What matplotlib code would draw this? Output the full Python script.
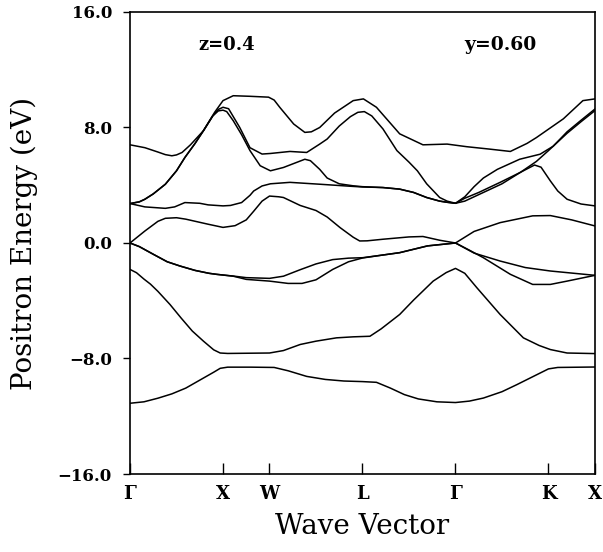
import matplotlib
matplotlib.use("Agg")
import matplotlib.pyplot as plt

# ---- DATA ----
# path coordinate: Gamma=0, X=1, W=1.5, L=2.5, Gamma=3.5, K=4.5, X=5
TICK_POS = [0.0, 1.0, 1.5, 2.5, 3.5, 4.5, 5.0]
TICK_LABELS = ["Γ", "X", "W", "L", "Γ", "K", "X"]

band1_k = [0.0, 0.15, 0.3, 0.45, 0.6, 0.75, 0.9, 0.97, 1.05, 1.3, 1.55, 1.7, 1.9, 2.1, 2.3, 2.5,
           2.65, 2.8, 2.95, 3.1, 3.3, 3.5, 3.65, 3.8, 4.0, 4.16, 4.35, 4.5, 4.6, 5.0]
band1_e = [-11.1, -11.0, -10.75, -10.45, -10.05, -9.5, -8.95, -8.68, -8.6, -8.6, -8.62, -8.85, -9.24,
           -9.45, -9.56, -9.6, -9.65, -10.05, -10.5, -10.8, -11.0, -11.05, -10.95, -10.74, -10.3,
           -9.81, -9.2, -8.72, -8.62, -8.59]

band2_k = [0.0, 0.07, 0.15, 0.22, 0.3, 0.43, 0.55, 0.67, 0.79, 0.9, 0.97, 1.05, 1.5, 1.65, 1.83, 2.0,
           2.22, 2.4, 2.58, 2.7, 2.9, 3.05, 3.26, 3.4, 3.5, 3.6, 3.73, 3.98, 4.23, 4.4, 4.52, 4.7, 5.0]
band2_e = [-1.83, -2.06, -2.5, -2.85, -3.35, -4.26, -5.2, -6.1, -6.8, -7.4, -7.62, -7.65, -7.62,
           -7.45, -7.03, -6.8, -6.57, -6.5, -6.46, -5.95, -4.95, -3.95, -2.64, -2.05, -1.76, -2.1,
           -3.1, -4.95, -6.57, -7.1, -7.38, -7.62, -7.66]

band3_k = [0.0, 0.1, 0.25, 0.4, 0.54, 0.7, 0.85, 0.93, 1.11, 1.25, 1.5, 1.65, 1.83, 2.0, 2.18, 2.35,
           2.5, 2.7, 2.9, 3.2, 3.5, 3.65, 3.8, 4.09, 4.33, 4.52, 4.7, 5.0]
band3_e = [0.0, -0.25, -0.78, -1.3, -1.6, -1.9, -2.1, -2.17, -2.29, -2.4, -2.45, -2.3, -1.85, -1.45,
           -1.15, -1.05, -1.02, -0.85, -0.67, -0.2, 0.0, -0.5, -1.02, -2.17, -2.87, -2.87, -2.64, -2.24]

band4_k = [0.0, 0.1, 0.25, 0.4, 0.54, 0.7, 0.85, 0.93, 1.11, 1.25, 1.5, 1.7, 1.85, 2.0, 2.18, 2.35,
           2.5, 2.7, 2.9, 3.2, 3.5, 3.7, 3.98, 4.25, 4.52, 5.0]
band4_e = [0.0, -0.25, -0.78, -1.3, -1.6, -1.9, -2.1, -2.17, -2.3, -2.52, -2.64, -2.8, -2.8, -2.55,
           -1.83, -1.3, -1.04, -0.85, -0.67, -0.2, 0.0, -0.7, -1.25, -1.7, -1.94, -2.24]

band5_k = [0.0, 0.16, 0.3, 0.38, 0.5, 0.6, 0.84, 1.0, 1.13, 1.25, 1.33, 1.42, 1.5, 1.6, 1.65, 1.83,
           2.0, 2.12, 2.26, 2.4, 2.47, 2.55, 2.72, 3.0, 3.15, 3.33, 3.5, 3.7, 3.98, 4.33, 4.52, 4.75, 5.0]
band5_e = [0.0, 0.83, 1.5, 1.71, 1.75, 1.65, 1.3, 1.08, 1.2, 1.6, 2.2, 2.9, 3.25, 3.2, 3.15, 2.6,
           2.25, 1.8, 1.06, 0.4, 0.14, 0.15, 0.26, 0.42, 0.45, 0.19, 0.0, 0.8, 1.41, 1.88, 1.9, 1.6, 1.18]

band6_k = [0.0, 0.16, 0.38, 0.48, 0.59, 0.75, 0.84, 1.0, 1.08, 1.2, 1.29, 1.33, 1.42, 1.51, 1.72,
           2.04, 2.37, 2.5, 2.72, 2.9, 3.05, 3.19, 3.33, 3.41, 3.5, 3.6, 3.8, 4.0, 4.2, 4.35, 4.42,
           4.52, 4.6, 4.7, 4.85, 5.0]
band6_e = [2.73, 2.5, 2.4, 2.5, 2.8, 2.75, 2.64, 2.57, 2.6, 2.8, 3.3, 3.6, 3.95, 4.1, 4.2, 4.07,
           3.93, 3.88, 3.84, 3.73, 3.5, 3.15, 2.9, 2.82, 2.75, 2.9, 3.5, 4.1, 4.9, 5.4, 5.25, 4.3,
           3.6, 3.03, 2.7, 2.57]

band7_k = [0.0, 0.1, 0.16, 0.25, 0.38, 0.5, 0.59, 0.7, 0.79, 0.89, 0.95, 1.0, 1.04, 1.11, 1.2, 1.29,
           1.4, 1.51, 1.65, 1.88, 1.94, 2.04, 2.12, 2.25, 2.4, 2.5, 2.72, 2.9, 3.05, 3.19, 3.33, 3.41,
           3.5, 3.6, 3.7, 3.8, 3.95, 4.19, 4.41, 4.55, 4.7, 4.85, 5.0]
band7_e = [2.73, 2.85, 3.03, 3.4, 4.07, 5.0, 5.92, 6.9, 7.78, 8.8, 9.15, 9.2, 9.1, 8.47, 7.5, 6.4,
           5.35, 5.0, 5.23, 5.8, 5.7, 5.1, 4.5, 4.1, 3.96, 3.9, 3.84, 3.73, 3.5, 3.15, 2.9, 2.82,
           2.75, 3.2, 3.9, 4.5, 5.1, 5.8, 6.15, 6.7, 7.7, 8.5, 9.28]

band8_k = [0.0, 0.1, 0.16, 0.25, 0.38, 0.5, 0.59, 0.7, 0.79, 0.89, 0.95, 1.0, 1.06, 1.18, 1.29, 1.42,
           1.51, 1.72, 1.9, 2.04, 2.12, 2.25, 2.37, 2.45, 2.52, 2.6, 2.72, 2.87, 3.0, 3.09, 3.19,
           3.33, 3.41, 3.5, 3.6, 3.75, 3.98, 4.2, 4.37, 4.5, 4.7, 4.85, 5.0]
band8_e = [2.73, 2.85, 3.03, 3.4, 4.07, 5.0, 5.92, 6.9, 7.78, 8.8, 9.25, 9.4, 9.3, 8.0, 6.6, 6.16,
           6.2, 6.34, 6.27, 6.85, 7.2, 8.1, 8.75, 9.05, 9.1, 8.8, 7.9, 6.4, 5.6, 5.0, 4.1, 3.15,
           2.9, 2.75, 3.1, 3.5, 4.2, 4.9, 5.65, 6.4, 7.6, 8.4, 9.17]

band9_k = [0.0, 0.16, 0.3, 0.38, 0.45, 0.5, 0.56, 0.65, 0.79, 0.91, 1.0, 1.11, 1.29, 1.49, 1.55, 1.61,
           1.76, 1.88, 1.95, 2.04, 2.2, 2.4, 2.51, 2.65, 2.9, 3.15, 3.41, 3.62, 3.87, 4.09, 4.27,
           4.37, 4.66, 4.87, 5.0]
band9_e = [6.8, 6.6, 6.3, 6.12, 6.04, 6.1, 6.27, 6.8, 7.78, 9.05, 9.86, 10.2, 10.16, 10.1, 9.9, 9.4,
           8.24, 7.66, 7.7, 8.0, 9.0, 9.86, 9.98, 9.4, 7.56, 6.8, 6.85, 6.67, 6.5, 6.34, 6.9,
           7.3, 8.6, 9.86, 9.98]

BANDS = [(band1_k, band1_e), (band2_k, band2_e), (band3_k, band3_e), (band4_k, band4_e),
         (band5_k, band5_e), (band6_k, band6_e), (band7_k, band7_e), (band8_k, band8_e),
         (band9_k, band9_e)]

# ---- PLOT ----
plt.rcParams["font.family"] = ["DejaVu Serif"]

fig = plt.figure(figsize=(6.03, 5.52), dpi=100)
ax = fig.add_axes([0.2156, 0.1413, 0.7711, 0.837])

for k, e in BANDS:
    ax.plot(k, e, color="black", lw=1.1)

ax.set_xlim(0, 5)
ax.set_ylim(-16, 16)
ax.set_yticks([-16, -8, 0, 8, 16])
ax.set_yticklabels(["−16.0", "−8.0", "0.0", "8.0", "16.0"], fontsize=12, fontweight="bold")
ax.set_xticks(TICK_POS)
ax.set_xticklabels(TICK_LABELS, fontsize=13, fontweight="bold")

ax.tick_params(axis="y", direction="out", length=5, width=1.0, pad=8)
ax.tick_params(axis="x", direction="in", length=8, width=1.0, pad=8)
for s in ax.spines.values():
    s.set_linewidth(1.2)

ax.set_xlabel("Wave Vector", fontsize=20, labelpad=7)
ax.set_ylabel("Positron Energy (eV)", fontsize=20, labelpad=14)

ax.text(1.04, 13.7, "z=0.4", fontsize=13, fontweight="bold", ha="center", va="center")
ax.text(3.98, 13.7, "y=0.60", fontsize=13.5, fontweight="bold", ha="center", va="center")

plt.savefig("out.png", dpi=100)
